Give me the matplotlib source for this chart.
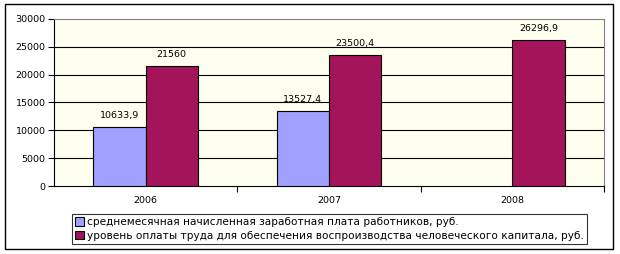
import numpy as np
import matplotlib
matplotlib.use("Agg")
import matplotlib.pyplot as plt
from matplotlib.patches import Rectangle

# data
years = ["2006", "2007", "2008"]
avg_wage = [10633.9, 13527.4, np.nan]
wage_level = [21560, 23500.4, 26296.9]
series_names = [
    "среднемесячная начисленная заработная плата работников, руб.",
    "уровень оплаты труда для обеспечения воспроизводства человеческого капитала, руб.",
]
y_ticks = [0, 5000, 10000, 15000, 20000, 25000, 30000]

plt.rcParams['font.family'] = ['DejaVu Sans']

fig = plt.figure(figsize=(6.2, 2.54), dpi=100)
ax = fig.add_axes([54/620, 68/254, 550/620, 167/254])
ax.set_facecolor("#FFFFF0")

x = np.arange(len(years))
w = 0.285
b1 = ax.bar(x - w, avg_wage, w, align="edge", color="#A0A0FF",
            edgecolor="black", linewidth=0.8, label=series_names[0], zorder=3)
b2 = ax.bar(x, wage_level, w, align="edge", color="#A3145A",
            edgecolor="black", linewidth=0.8, label=series_names[1], zorder=3)

for bars, vals in ((b1, avg_wage), (b2, wage_level)):
    for rect, v in zip(bars, vals):
        if np.isnan(v):
            continue
        ax.annotate(f"{v:g}".replace(".", ","),
                    (rect.get_x() + rect.get_width()/2, v),
                    xytext=(0, 5), textcoords="offset points",
                    ha="center", va="bottom", fontsize=6.8)

ax.set_xlim(-0.5, 2.5)
ax.set_ylim(0, 30000)
ax.set_yticks(y_ticks)
ax.tick_params(axis="y", direction="out", length=4, width=0.8,
               labelsize=6.8, pad=2)
ax.set_xticks(x)
ax.set_xticklabels(years)
ax.tick_params(axis="x", which="major", length=0, labelsize=6.8, pad=7)
ax.set_xticks([0.5, 1.5, 2.5], minor=True)
ax.tick_params(axis="x", which="minor", direction="out", length=4, width=0.8)

for yv in y_ticks[1:-1]:
    ax.axhline(yv, color="black", linewidth=0.8, zorder=1)

ax.spines["top"].set_color("#808080")
ax.spines["right"].set_color("#808080")
ax.spines["left"].set_linewidth(0.8)
ax.spines["bottom"].set_linewidth(0.8)

leg = fig.legend(loc="upper left", bbox_to_anchor=(72/620, 1 - 214/254),
                 fontsize=7.6, frameon=True, fancybox=False, borderpad=0.3,
                 handlelength=0.8, handleheight=0.8, handletextpad=0.3,
                 labelspacing=0.35, borderaxespad=0)
leg.get_frame().set_edgecolor("black")
leg.get_frame().set_linewidth(0.8)

fig.patches.append(Rectangle((5/620, 5/254), 608/620, 245/254,
                             transform=fig.transFigure, fill=False,
                             edgecolor="black", linewidth=1))

fig.savefig("out.png", dpi=100, facecolor="white")
